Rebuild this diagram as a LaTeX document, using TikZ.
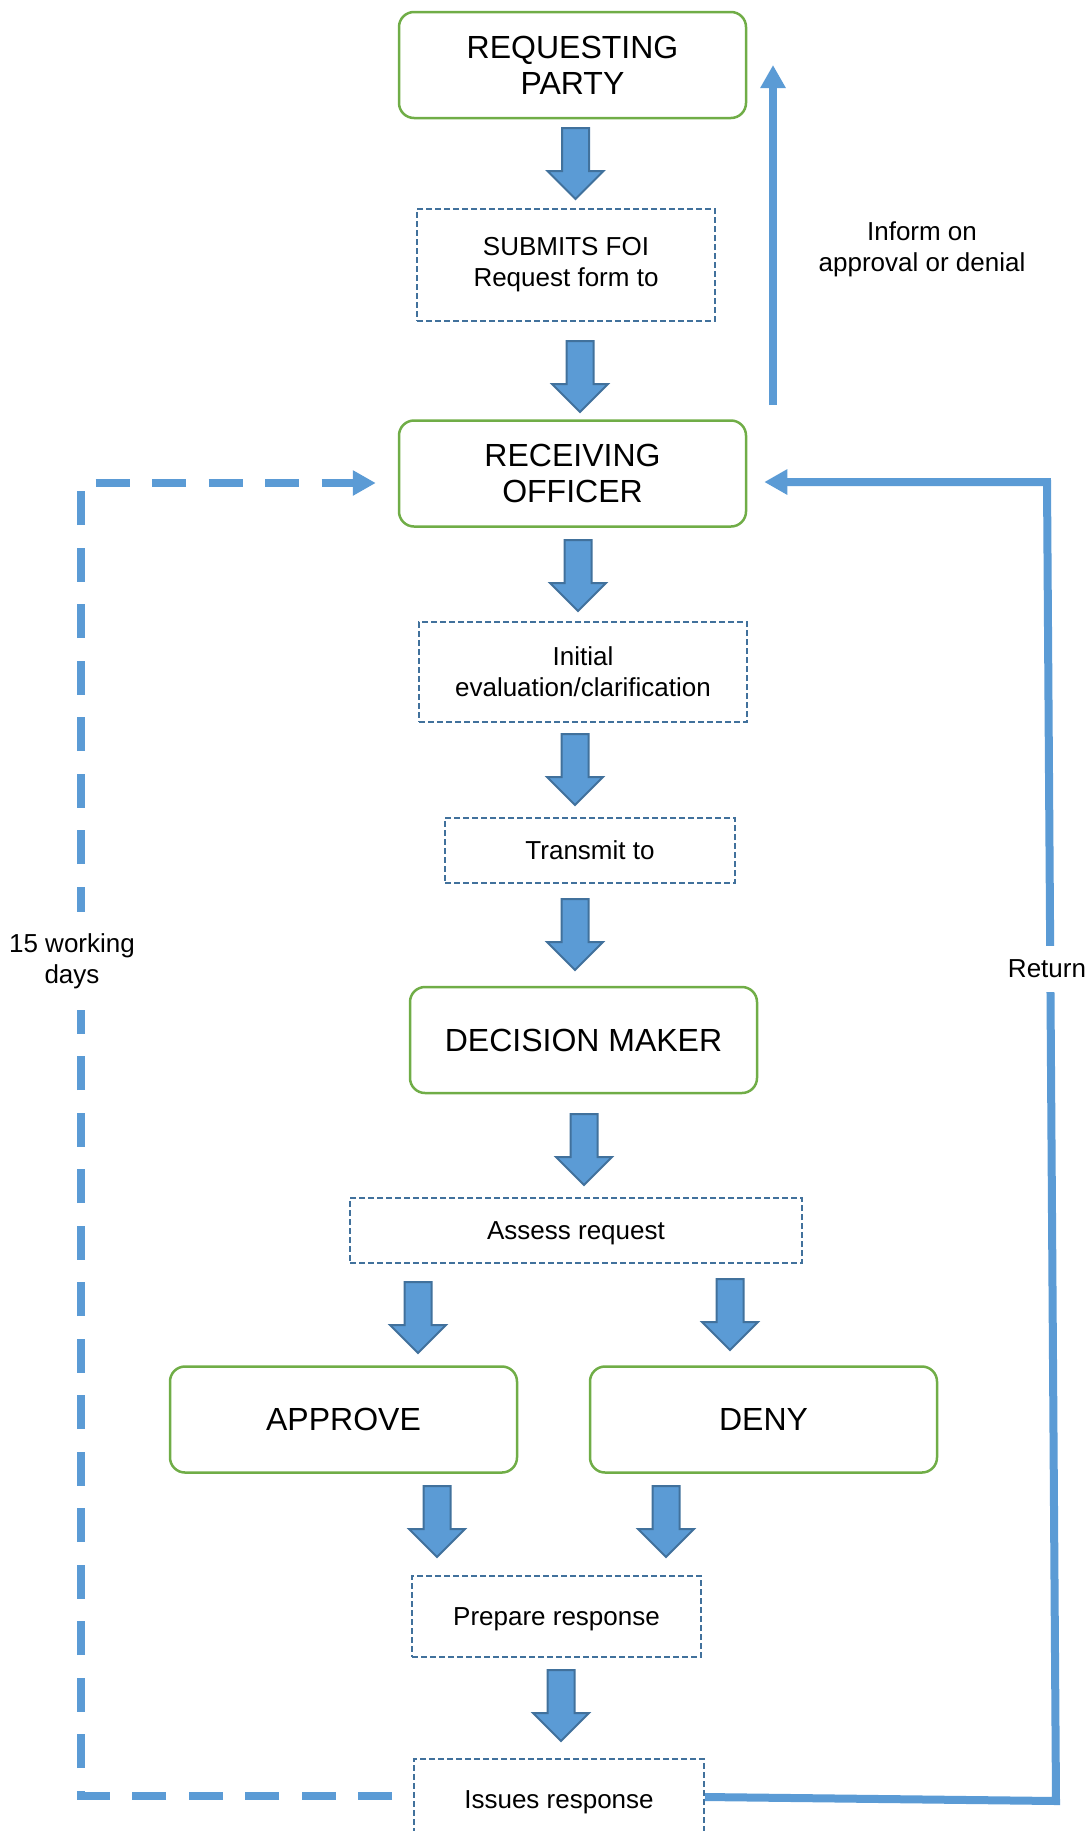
\documentclass[tikz,border=0pt]{standalone}
\usepackage{fontspec}
\setmainfont{Liberation Sans}
\usetikzlibrary{arrows.meta,calc}
\definecolor{boxgreen}{HTML}{70AD47}
\definecolor{flowblue}{HTML}{5B9BD5}
\definecolor{edgeblue}{HTML}{41719C}
\begin{document}
\begin{tikzpicture}[x=1pt,y=-1pt,
  bigbox/.style={draw=boxgreen,line width=2.5pt,rounded corners=15pt,minimum width=347pt,minimum height=106pt,inner sep=0pt,align=center,font=\fontsize{32}{36}\selectfont,text height=29pt,text depth=6.8pt},
  smallbox/.style={draw=edgeblue,line width=2pt,dash pattern=on 6pt off 3pt,inner sep=0pt,align=center,font=\fontsize{26}{31}\selectfont,text height=23.5pt,text depth=5.5pt},
  twoline/.style={text height={},text depth={}},
  flowline/.style={draw=flowblue,line width=8pt},
  flowhead/.style={-{Triangle[length=23pt,width=24pt]}},
  lbl/.style={align=center,font=\fontsize{26}{31}\selectfont},
  blockarrow/.pic={\draw[fill=flowblue,draw=edgeblue,line width=2pt,line join=miter] (-13.5,0) -- (13.5,0) -- (13.5,43) -- (28,43) -- (0,71) -- (-28,43) -- (-13.5,43) -- cycle;}]
\useasboundingbox (0,0) rectangle (1092,1831);
\node[bigbox,twoline] (req) at (572.5,65) {REQUESTING\\PARTY};
\node[smallbox,twoline,minimum width=298pt,minimum height=112pt] (submit) at (566,265) {SUBMITS FOI\\Request form to};
\node[bigbox,twoline] (recv) at (572.5,473.5) {RECEIVING\\OFFICER};
\node[smallbox,twoline,minimum width=328pt,minimum height=100pt] (evaluate) at (583,672) {Initial\\evaluation/clarification};
\node[smallbox,minimum width=290pt,minimum height=65pt] (transmit) at (590,850.5) {Transmit to};
\node[bigbox] (decide) at (583.5,1040) {DECISION MAKER};
\node[smallbox,minimum width=452pt,minimum height=65pt] (assess) at (576,1230.5) {Assess request};
\node[bigbox] (approve) at (343.5,1419.5) {APPROVE};
\node[bigbox] (deny) at (763.5,1419.5) {DENY};
\node[smallbox,minimum width=289pt,minimum height=81pt] (prepare) at (556.5,1616.5) {Prepare response};
\node[smallbox,minimum width=290pt,minimum height=80pt] (issue) at (559,1799) {Issues response};
\foreach \x/\y in {575.5/128,580/341,578/540,575/734,575/899,584/1114,418/1282,730/1279,437/1486,666/1486,561/1670}
  \pic at (\x,\y) {blockarrow};
\coordinate (infobot) at (773,405);
\coordinate (infotop) at (773,65);
\draw[flowline,flowhead] (infobot) -- (infotop);
\node[lbl] (inform) at (922,249) {Inform on\\approval or denial};
\coordinate (loopbot) at (81,1796);
\coordinate (looptop) at (81,483);
\draw[flowline,dash pattern=on 34pt off 22.5pt,flowhead] ($(issue.west)+(-21,-3)$) -- (loopbot) -- (looptop) -- ($(recv.west |- looptop)+(-22,0)$);
\node[lbl,fill=white,inner ysep=21pt] (days) at (72,961) {15 working\\days};
\coordinate (retbot) at (1056,1801);
\coordinate (rettop) at (1047,482);
\draw[flowline,flowhead] ($(issue.east)+(0,-2)$) -- (retbot) -- (rettop) -- ($(recv.east |- rettop)+(17,0)$);
\node[lbl,fill=white,inner ysep=14pt] (ret) at (1047,969) {Return};
\end{tikzpicture}
\end{document}
